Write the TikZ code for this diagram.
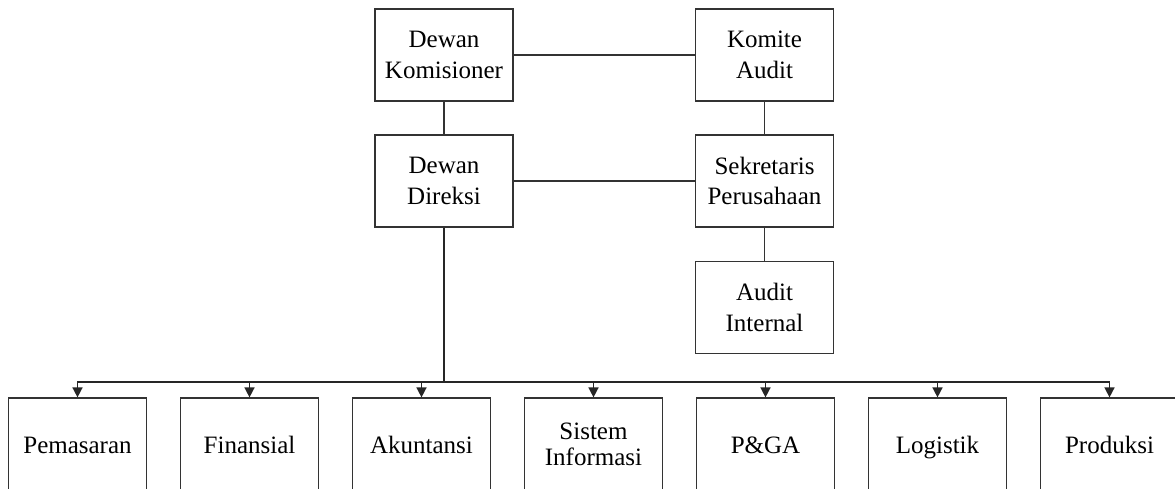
\documentclass[tikz,border=0pt]{standalone}
\usepackage{fontspec}
\setmainfont{Liberation Serif}
\usetikzlibrary{arrows.meta}
\newcommand\onestrut{\rule[-6pt]{0pt}{30pt}}
\begin{document}
\begin{tikzpicture}[x=1pt,y=-1pt,
  orgbox/.style={draw=black!80,line width=1.2pt,fill=white,minimum width=138pt,minimum height=92pt,inner sep=0pt,align=center,font=\fontsize{25}{30.5}\selectfont},
  lowbox/.style={orgbox,font=\fontsize{25}{25.7}\selectfont},
  link/.style={draw=black!80,line width=1.2pt},
  tree/.style={draw=black!85,line width=1.5pt},
  arr/.style={tree,-{Triangle[width=10pt,length=10pt]}}]
\clip (0,0) rectangle (1175,489);
\fill[white] (0,0) rectangle (1175,489);
\node[orgbox] (dk) at (444,55) {Dewan\\Komisioner};
\node[orgbox] (ka) at (764.5,55) {Komite\\Audit};
\node[orgbox] (dd) at (444,181) {Dewan\\Direksi};
\node[orgbox] (sp) at (764.5,181) {Sekretaris\\Perusahaan};
\node[orgbox] (ai) at (764.5,307.5) {Audit\\Internal};
\node[lowbox] (b1) at (77.5,444) {\onestrut Pemasaran};
\node[lowbox] (b2) at (249.5,444) {\onestrut Finansial};
\node[lowbox] (b3) at (421.5,444) {\onestrut Akuntansi};
\node[lowbox] (b4) at (593.5,444) {Sistem\\Informasi};
\node[lowbox] (b5) at (765.5,444) {\onestrut P\&GA};
\node[lowbox] (b6) at (937.5,444) {\onestrut Logistik};
\node[lowbox] (b7) at (1109.5,444) {\onestrut Produksi};
\coordinate (bus) at (444,382);
\draw[link] (dk.east) -- (ka.west);
\draw[link] (dk.south) -- (dd.north);
\draw[link] (ka.south) -- (sp.north);
\draw[link] (dd.east) -- (sp.west);
\draw[link] (sp.south) -- (ai.north);
\draw[tree] (dd.south) -- (bus);
\foreach \b in {b1,b2,b3,b4,b5,b6,b7} {
  \draw[arr] (bus) -| (\b.north);
}
\end{tikzpicture}
\end{document}
